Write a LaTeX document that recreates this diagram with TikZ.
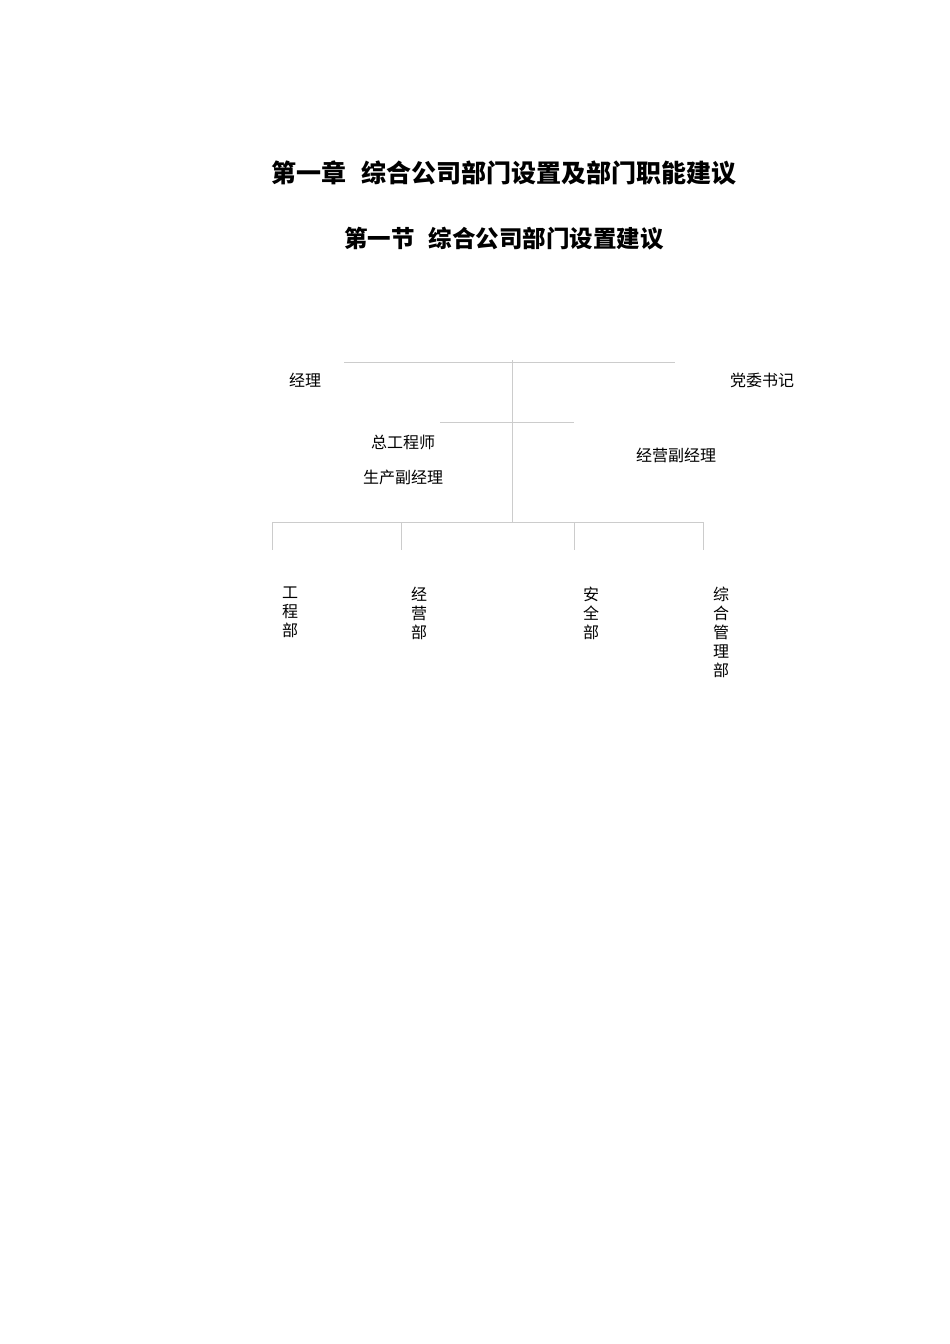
\documentclass[tikz,border=0pt]{standalone}
\usepackage{fontspec}
\newfontfamily\cjk{Noto Sans CJK SC}
\usepackage{xcolor}
\usepackage{tikz}
\definecolor{linegray}{rgb}{0.80,0.80,0.80}
\tikzset{
  orgline/.style={draw=linegray, line width=1pt},
  postlabel/.style={inner sep=0pt, font=\cjk\fontsize{16}{19}\selectfont},
  deptlabel/.style={inner sep=0pt, anchor=north, align=center, font=\cjk\fontsize{16}{19}\selectfont},
}
\begin{document}
\begin{tikzpicture}[x=1pt,y=1pt,yscale=-1,xscale=1]
\useasboundingbox (0,0) rectangle (950,1344);

% Titles
\node (chaptitle) at (504,173) {\cjk\bfseries\fontsize{25}{30}\selectfont 第一章\hspace{0.6em}综合公司部门设置及部门职能建议};
\node (secttitle) at (504,239) {\cjk\bfseries\fontsize{23.5}{26}\selectfont 第一节\hspace{0.6em}综合公司部门设置建议};

% Junction points
\coordinate (topL) at (344,362);
\coordinate (topR) at (675,362);
\coordinate (trunkT) at (512,360);
\coordinate (midL) at (440,422);
\coordinate (midR) at (574,422);
\coordinate (trunkB) at (512,522);
\coordinate (busL) at (272,522);
\coordinate (busR) at (703,522);
\coordinate (bus2) at (401,522);
\coordinate (bus3) at (574,522);

% Straight Lines
\draw [orgline] (topL) -- (topR);
\draw [orgline] (trunkT) -- (trunkB);
\draw [orgline] (midL) -- (midR);
\draw [orgline] (busL) -- (busR);
\foreach \c in {busL,bus2,bus3,busR}
  \draw [orgline] (\c) -- ++(0,28);

% Text Node
\node [postlabel] (manager) at (305,380) {经理};
\node [postlabel] (secretary) at (762,380) {党委书记};
\node [postlabel] (chiefeng) at (403,442) {总工程师};
\node [postlabel] (prodvice) at (403,477) {生产副经理};
\node [postlabel] (bizvice) at (676,455) {经营副经理};

% Departments
\node [deptlabel] (engdept) at (290,587) {工\\程\\部};
\node [deptlabel] (bizdept) at (419,587) {经\\营\\部};
\node [deptlabel] (safedept) at (591,587) {安\\全\\部};
\node [deptlabel] (admindept) at (721,587) {综\\合\\管\\理\\部};

\end{tikzpicture}
\end{document}
